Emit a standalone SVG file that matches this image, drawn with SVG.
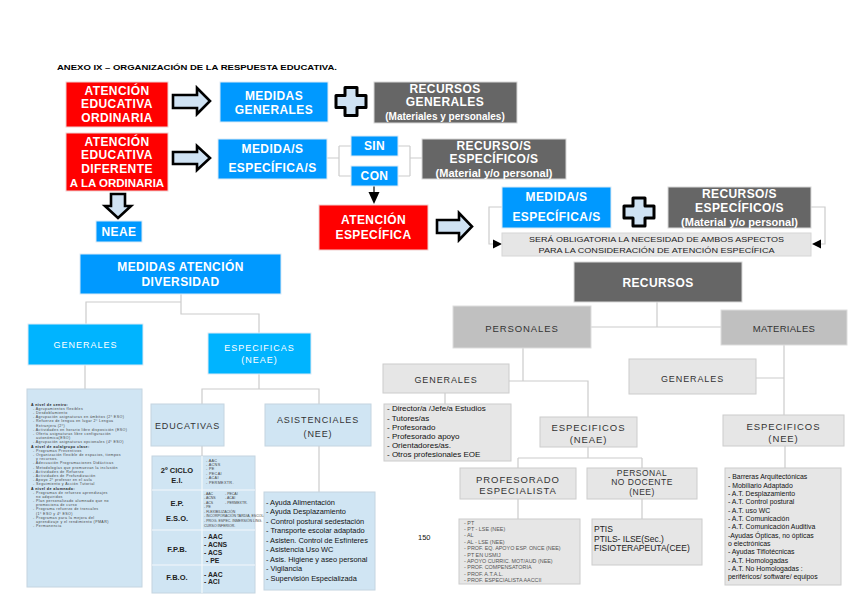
<svg xmlns="http://www.w3.org/2000/svg" xmlns:xlink="http://www.w3.org/1999/xlink" width="848" height="599" viewBox="0 0 848 599">
<defs>
<style>
text{font-family:"Liberation Sans",Arial,sans-serif}
.red{fill:#ff0000;stroke:#f0d0d0;stroke-width:1}
.blue{fill:#0099ff;stroke:#dbeaf5;stroke-width:1}
.cyan{fill:#00b4ff;stroke:#dbeaf5;stroke-width:1}
.dgray{fill:#666666;stroke:#d8d8d8;stroke-width:1}
.mgray{fill:#c0c0c0;stroke:#dddddd;stroke-width:1}
.lgray{fill:#e6e6e6;stroke:#cccccc;stroke-width:1}
.lblue{fill:#d0e5f3;stroke:#c4d4e0;stroke-width:1}
.wb{fill:#fff;font-weight:bold;font-size:12px;text-anchor:middle;letter-spacing:0.4px}
.wn{fill:#fff;font-size:9px;text-anchor:middle;letter-spacing:1px}
.dk{fill:#333;font-size:9.5px;text-anchor:middle;letter-spacing:0.9px}
.arrow{fill:#cfe2f3;stroke:#000;stroke-width:2.6;stroke-linejoin:miter}
.plus{fill:#cfe2f3;stroke:#000;stroke-width:3;stroke-linejoin:round}
.con{fill:none;stroke:#cccccc;stroke-width:1.2}
.ah{fill:#000}
.tiny{fill:#444;font-size:3.6px;letter-spacing:0.4px}
.list{fill:#111;font-size:7.4px}
</style>
<path id="plusShape" d="M-6,-14 H6 V-6 H15 V6 H6 V14 H-6 V6 H-15 V-6 H-6 Z"/>
</defs>
<rect x="0" y="0" width="848" height="599" fill="#ffffff"/>

<text x="57" y="70" font-size="8" font-weight="bold" fill="#000" textLength="280" lengthAdjust="spacingAndGlyphs">ANEXO IX – ORGANIZACIÓN DE LA RESPUESTA EDUCATIVA.</text>

<g id="connectors">
<path class="con" d="M327,158 H339 M339,146 V176 M339,146 H351 M339,176 H351 M398,146 H410 M398,176 H410 M410,146 V176 M410,158 H422"/>
<path d="M374,186 V193" stroke="#000" stroke-width="1.2"/>
<path class="ah" d="M368.5,192 L379.5,192 L374,204 Z"/>
<path class="con" d="M502,207 H489 V244 H495"/>
<path class="ah" d="M493,239.5 L502,244 L493,248.5 Z"/>
<path class="con" d="M811,207 H825 V244 H819"/>
<path class="ah" d="M821,239.5 L812,244 L821,248.5 Z"/>
<path class="con" d="M181,294 V314 H259 V333 M181,302 H86 V324 M85,365 V389 M259,374 V389 M202,404 V389 H319 V404 M202,446 V456 M319,446 V492"/>
<path class="con" d="M657,302 V327 M591,327 H721 M523,348 V381 M509,381 H588 V417 M445,393 V404 M784,345 V415 M756,378 H784 M588,447 V458 M518,458 H642 M518,458 V468 M642,458 V468 M518,499 V519 M642,499 V519 M785,446 V468"/>
</g>

<g id="atencion-ordinaria">
<rect class="red" x="66" y="82" width="102" height="45"/>
<text class="wb" x="117" y="95">ATENCIÓN</text>
<text class="wb" x="117" y="108">EDUCATIVA</text>
<text class="wb" x="117" y="122">ORDINARIA</text>
</g>
<g id="arrow1"><path class="arrow" d="M173,95 H197 V88 L210,101 L197,114 V108 H173 Z"/></g>
<g id="medidas-generales">
<rect class="blue" x="220" y="82" width="108" height="40"/>
<text class="wb" x="274" y="100">MEDIDAS</text>
<text class="wb" x="274" y="114">GENERALES</text>
</g>
<g id="plus1"><use href="#plusShape" class="plus" transform="translate(351,101.5)"/></g>
<g id="recursos-generales">
<rect class="dgray" x="374" y="82" width="143" height="41"/>
<text class="wb" x="445" y="93">RECURSOS</text>
<text class="wb" x="445" y="106">GENERALES</text>
<text class="wb" x="445" y="119.5" style="font-size:10px;letter-spacing:0">(Materiales y personales)</text>
</g>

<g id="atencion-diferente">
<rect class="red" x="66" y="133" width="102" height="58"/>
<text class="wb" x="117" y="146">ATENCIÓN</text>
<text class="wb" x="117" y="159">EDUCATIVA</text>
<text class="wb" x="117" y="173">DIFERENTE</text>
<text class="wb" x="117" y="187" style="letter-spacing:0;font-size:11.5px">A LA ORDINARIA</text>
</g>
<g id="arrow2"><path class="arrow" d="M173,152 H197 V146 L210,158 L197,170 V164 H173 Z"/></g>
<g id="medidas-especificas">
<rect class="blue" x="218" y="139" width="109" height="40"/>
<text class="wb" x="272.5" y="153">MEDIDA/S</text>
<text class="wb" x="272.5" y="172">ESPECÍFICA/S</text>
</g>
<g id="sin">
<rect class="blue" x="351" y="136" width="47" height="20"/>
<text class="wb" x="374.5" y="150">SIN</text>
</g>
<g id="con">
<rect class="blue" x="351" y="166" width="47" height="20"/>
<text class="wb" x="374.5" y="180">CON</text>
</g>
<g id="recursos-especificos">
<rect class="dgray" x="422" y="139" width="144" height="40"/>
<text class="wb" x="494" y="150">RECURSO/S</text>
<text class="wb" x="494" y="163">ESPECÍFICO/S</text>
<text class="wb" x="494" y="177" style="font-size:11px;letter-spacing:0">(Material y/o personal)</text>
</g>

<g id="arrow-neae"><path class="arrow" d="M111,194 H125 V206 H131 L118,218 L105,206 H111 Z"/></g>
<g id="neae">
<rect class="blue" x="96" y="221" width="46" height="21"/>
<text class="wb" x="119" y="236">NEAE</text>
</g>

<g id="atencion-especifica">
<rect class="red" x="319" y="205" width="109" height="45"/>
<text class="wb" x="373.5" y="224">ATENCIÓN</text>
<text class="wb" x="373.5" y="238.5">ESPECÍFICA</text>
</g>
<g id="arrow3"><path class="arrow" d="M437,220 H459 V213 L472,226.5 L459,240 V233 H437 Z"/></g>
<g id="medidas-especificas-2">
<rect class="blue" x="502" y="187" width="109" height="41"/>
<text class="wb" x="556.5" y="201">MEDIDA/S</text>
<text class="wb" x="556.5" y="221">ESPECÍFICA/S</text>
</g>
<g id="plus2"><use href="#plusShape" class="plus" transform="translate(639,212)"/></g>
<g id="recursos-especificos-2">
<rect class="dgray" x="668" y="187" width="143" height="41"/>
<text class="wb" x="739.5" y="198">RECURSO/S</text>
<text class="wb" x="739.5" y="212">ESPECÍFICO/S</text>
<text class="wb" x="739.5" y="226" style="font-size:11px;letter-spacing:0">(Material y/o personal)</text>
</g>
<g id="nota">
<rect x="502" y="233" width="309" height="23" fill="#e6e6e6" stroke="#d6d6d6"/>
<text x="656.5" y="241.7" font-size="7.5" fill="#222" text-anchor="middle" textLength="255" lengthAdjust="spacingAndGlyphs">SERÁ OBLIGATORIA LA NECESIDAD DE AMBOS ASPECTOS</text>
<text x="656.5" y="252.7" font-size="7.5" fill="#222" text-anchor="middle" textLength="236" lengthAdjust="spacingAndGlyphs">PARA LA CONSIDERACIÓN DE ATENCIÓN ESPECÍFICA</text>
</g>

<g id="medidas-atencion-diversidad">
<rect class="blue" x="80" y="254" width="201" height="40"/>
<text class="wb" x="180.5" y="271">MEDIDAS ATENCIÓN</text>
<text class="wb" x="180.5" y="286">DIVERSIDAD</text>
</g>
<g id="generales-mad">
<rect class="cyan" x="28" y="324" width="115" height="41"/>
<text class="wn" x="85.5" y="348">GENERALES</text>
</g>
<g id="especificas-neae">
<rect class="cyan" x="208" y="333" width="103" height="41"/>
<text class="wn" x="259.5" y="351">ESPECIFICAS</text>
<text class="wn" x="259.5" y="363">(NEAE)</text>
</g>
<g id="generales-lista">
<rect class="lblue" x="27" y="389" width="115" height="198"/>
<text class="tiny" x="33" y="405.5">
<tspan x="31" style="font-weight:bold;fill:#222">A nivel de centro:</tspan>
<tspan x="33" dy="4.2">- Agrupamientos flexibles</tspan>
<tspan x="33" dy="4.2">- Desdoblamiento</tspan>
<tspan x="33" dy="4.2">- Agrupación asignaturas en ámbitos (2º ESO)</tspan>
<tspan x="33" dy="4.2">- Refuerzo de lengua en lugar 2ª Lengua</tspan>
<tspan x="36" dy="4.2">Extranjera (2º)</tspan>
<tspan x="33" dy="4.2">- Actividades en horario libre disposición (ESO)</tspan>
<tspan x="33" dy="4.2">- Oferta asignaturas libre configuración</tspan>
<tspan x="36" dy="4.2">autonómica(ESO)</tspan>
<tspan x="33" dy="4.2">- Agrupación asignaturas opcionales (4º ESO)</tspan>
<tspan x="31" dy="4.2" style="font-weight:bold;fill:#222">A nivel de aula/grupo clase:</tspan>
<tspan x="33" dy="4.2">- Programas Preventivos</tspan>
<tspan x="33" dy="4.2">- Organización flexible de espacios, tiempos</tspan>
<tspan x="36" dy="4.2">y recursos.</tspan>
<tspan x="33" dy="4.2">- Adecuación Programaciones Didácticas</tspan>
<tspan x="33" dy="4.2">- Metodologías que promuevan la inclusión</tspan>
<tspan x="33" dy="4.2">- Actividades de Refuerzo</tspan>
<tspan x="33" dy="4.2">- Actividades de Profundización</tspan>
<tspan x="33" dy="4.2">- Apoyo 2º profesor en el aula</tspan>
<tspan x="33" dy="4.2">- Seguimiento y Acción Tutorial</tspan>
<tspan x="31" dy="4.2" style="font-weight:bold;fill:#222">A nivel de alumnado:</tspan>
<tspan x="33" dy="4.2">- Programas de refuerzo aprendizajes</tspan>
<tspan x="36" dy="4.2">no adquiridos</tspan>
<tspan x="33" dy="4.2">- Plan personalizado alumnado que no</tspan>
<tspan x="36" dy="4.2">promociona de curso</tspan>
<tspan x="33" dy="4.2">- Programa refuerzo de troncales</tspan>
<tspan x="36" dy="4.2">(1º ESO y 4º ESO)</tspan>
<tspan x="33" dy="4.2">- Programas para la mejora del</tspan>
<tspan x="36" dy="4.2">aprendizaje y el rendimiento (PMAR)</tspan>
<tspan x="33" dy="4.2">- Permanencia</tspan>
</text>
</g>

<g id="educativas">
<rect class="lblue" x="151" y="404" width="73" height="42"/>
<text class="dk" x="187.5" y="428.5" style="font-size:9px">EDUCATIVAS</text>
</g>
<g id="asistenciales">
<rect class="lblue" x="265" y="404" width="106" height="42"/>
<text class="dk" x="318" y="422.5" style="font-size:9px">ASISTENCIALES</text>
<text class="dk" x="318" y="436.5" style="font-size:9px">(NEE)</text>
</g>

<g id="tabla-educativas">
<rect class="lblue" x="152" y="456" width="103" height="137"/>
<path d="M202,456 V593 M152,490 H255 M152,530 H255 M152,565 H255" stroke="#f4f8fb" stroke-width="1.2" fill="none"/>
<g font-weight="bold" font-size="7.5" fill="#222" text-anchor="middle">
<text x="177" y="473">2º CICLO</text>
<text x="177" y="482.5">E.I.</text>
<text x="177" y="506">E.P.</text>
<text x="177" y="521">E.S.O.</text>
<text x="177" y="552">F.P.B.</text>
<text x="177" y="580">F.B.O.</text>
</g>
<g font-size="3.8" fill="#444" letter-spacing="0.3">
<text x="206" y="461.5">- AAC</text>
<text x="206" y="465.9">- ACNS</text>
<text x="206" y="470.3">- PE</text>
<text x="206" y="474.7">- PECAI</text>
<text x="206" y="479.1">- ACAI</text>
<text x="206" y="483.5">- PERMEXTR.</text>
</g>
<g font-size="3.5" fill="#444">
<text x="204" y="494.5">- AAC</text><text x="225" y="494.5">- PECAI</text>
<text x="204" y="499">- ACNS</text><text x="225" y="499">- ACAI</text>
<text x="204" y="503.5">- ACS</text><text x="225" y="503.5">- PERMEXTR.</text>
<text x="204" y="508">- PE</text>
<text x="204" y="513">- FLEXIBILIZACIÓN</text>
<text x="204" y="517.3">- INCORPORACIÓN TARDÍA, ESCOLAR.</text>
<text x="204" y="521.8">- PROG. ESPEC. INMERSIÓN LING.</text>
<text x="204" y="526.5">CURSO INFERIOR.</text>
</g>
<g font-weight="bold" font-size="6.8" fill="#222">
<text x="204" y="538.5">- AAC</text>
<text x="204" y="546.5">- ACNS</text>
<text x="204" y="554.5">- ACS</text>
<text x="206" y="562.5">- PE</text>
<text x="204" y="576.5">- AAC</text>
<text x="204" y="583.5">- ACI</text>
</g>
</g>

<g id="asistenciales-lista">
<rect class="lblue" x="264" y="492" width="111" height="98"/>
<text class="list" x="266" y="504.5">
<tspan x="266">- Ayuda Alimentación</tspan>
<tspan x="266" dy="9.5">- Ayuda Desplazamiento</tspan>
<tspan x="266" dy="9.5">- Control postural sedestación</tspan>
<tspan x="266" dy="9.5">- Transporte escolar adaptado</tspan>
<tspan x="266" dy="9.5">- Asisten. Control de Esfínteres</tspan>
<tspan x="266" dy="9.5">- Asistencia Uso WC</tspan>
<tspan x="266" dy="9.5">- Asis. Higiene y aseo personal</tspan>
<tspan x="266" dy="9.5">- Vigilancia</tspan>
<tspan x="266" dy="9.5">- Supervisión Especializada</tspan>
</text>
</g>

<g id="recursos">
<rect class="dgray" x="574" y="262" width="168" height="40"/>
<text class="wb" x="658" y="287">RECURSOS</text>
</g>
<g id="personales">
<rect class="mgray" x="453" y="306" width="138" height="42"/>
<text class="dk" x="522" y="331.5">PERSONALES</text>
</g>
<g id="materiales">
<rect class="mgray" x="721" y="310" width="126" height="35"/>
<text class="dk" x="784" y="331.5" style="letter-spacing:0.3px">MATERIALES</text>
</g>
<g id="generales-personales">
<rect class="lgray" x="383" y="364" width="126" height="29"/>
<text class="dk" x="446" y="382.5" style="font-size:9px">GENERALES</text>
</g>
<g id="generales-personales-lista">
<rect class="lgray" x="384" y="404" width="127" height="57"/>
<text x="387" y="411.4" font-size="8" fill="#111">
<tspan x="387">- Director/a /Jefe/a Estudios</tspan>
<tspan x="387" dy="9.2">- Tutores/as</tspan>
<tspan x="387" dy="9.2">- Profesorado</tspan>
<tspan x="387" dy="9.2">- Profesorado apoyo</tspan>
<tspan x="387" dy="9.2">- Orientadores/as.</tspan>
<tspan x="387" dy="9.2">- Otros profesionales EOE</tspan>
</text>
</g>
<g id="generales-materiales">
<rect class="lgray" x="629" y="359" width="127" height="35"/>
<text class="dk" x="692.5" y="381.5" style="font-size:9px">GENERALES</text>
</g>
<g id="especificos-neae">
<rect class="lgray" x="540" y="417" width="97" height="30"/>
<text class="dk" x="588.5" y="430.5">ESPECIFICOS</text>
<text class="dk" x="588.5" y="442.5">(NEAE)</text>
</g>
<g id="especificos-nee">
<rect class="lgray" x="723" y="415" width="121" height="31"/>
<text class="dk" x="783.5" y="429.5">ESPECIFICOS</text>
<text class="dk" x="783.5" y="441.5">(NEE)</text>
</g>
<g id="profesorado-especialista">
<rect class="lgray" x="460" y="468" width="116" height="31"/>
<text class="dk" x="518" y="482.5">PROFESORADO</text>
<text class="dk" x="518" y="493.5">ESPECIALISTA</text>
</g>
<g id="personal-no-docente">
<rect class="lgray" x="587" y="468" width="110" height="31"/>
<text class="dk" x="642" y="476" style="font-size:8.5px;letter-spacing:0.5px">PERSONAL</text>
<text class="dk" x="642" y="485" style="font-size:8.5px;letter-spacing:0.5px">NO DOCENTE</text>
<text class="dk" x="642" y="495" style="font-size:8.5px;letter-spacing:0.5px">(NEE)</text>
</g>
<g id="profesorado-lista">
<rect class="lgray" x="459" y="519" width="121" height="65"/>
<text x="464" y="524.6" font-size="5.4" fill="#555">
<tspan x="464">- PT</tspan>
<tspan x="464" dy="6.4">- PT - LSE (NEE)</tspan>
<tspan x="464" dy="6.4">- AL</tspan>
<tspan x="464" dy="6.4">- AL - LSE (NEE)</tspan>
<tspan x="464" dy="6.4">- PROF. EQ. APOYO  ESP. ONCE (NEE)</tspan>
<tspan x="464" dy="6.4">- PT EN USMIJ</tspan>
<tspan x="464" dy="6.4">- APOYO CURRIC. MOT/AUD (NEE)</tspan>
<tspan x="464" dy="6.4">- PROF. COMPENSATORIA</tspan>
<tspan x="464" dy="6.4">- PROF. A.T.A.L.</tspan>
<tspan x="464" dy="6.4">- PROF. ESPECIALISTA AACCII</tspan>
</text>
</g>
<g id="personal-no-docente-lista">
<rect class="lgray" x="592" y="519" width="110" height="46"/>
<text x="594" y="532" font-size="8.5" fill="#222">
<tspan x="594">PTIS</tspan>
<tspan x="594" dy="9.5">PTILS- ILSE(Sec.)</tspan>
<tspan x="594" dy="9.5">FISIOTERAPEUTA(CEE)</tspan>
</text>
</g>
<g id="materiales-lista">
<rect class="lgray" x="725" y="468" width="116" height="117"/>
<text x="728" y="479.2" font-size="6.9" fill="#111">
<tspan x="728">- Barreras Arquitectónicas</tspan>
<tspan x="728" dy="8.33">- Mobiliario Adaptado</tspan>
<tspan x="728" dy="8.33">- A.T. Desplazamiento</tspan>
<tspan x="728" dy="8.33">- A.T. Control postural</tspan>
<tspan x="728" dy="8.33">- A.T. uso WC</tspan>
<tspan x="728" dy="8.33">- A.T. Comunicación</tspan>
<tspan x="728" dy="8.33">- A.T. Comunicación Auditiva</tspan>
<tspan x="728" dy="8.33">-Ayudas Ópticas, no ópticas</tspan>
<tspan x="728" dy="8.33">o electrónicas</tspan>
<tspan x="728" dy="8.33">- Ayudas Tiflotécnicas</tspan>
<tspan x="728" dy="8.33">- A.T. Homologadas</tspan>
<tspan x="728" dy="8.33">- A.T. No Homologadas :</tspan>
<tspan x="728" dy="8.33">periféricos/ software/ equipos</tspan>
</text>
</g>
<text x="418" y="540" font-size="7.5" fill="#111">150</text>
</svg>
